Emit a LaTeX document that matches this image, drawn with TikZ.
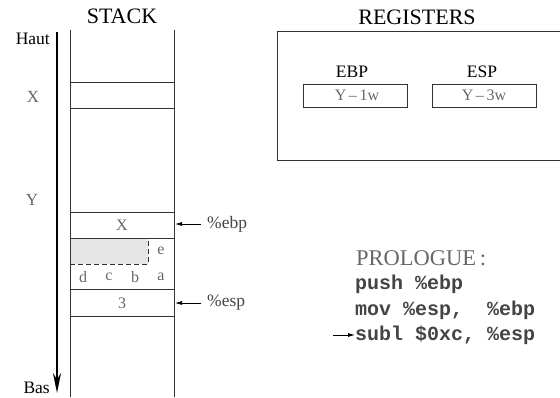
\documentclass[tikz,border=0pt]{standalone}
\usepackage{fontspec}
\setmainfont{Liberation Serif}
\setmonofont{Liberation Mono}
\usetikzlibrary{arrows.meta}
\definecolor{txtgray}{HTML}{666666}
\definecolor{codegray}{HTML}{444444}
\definecolor{linegray}{HTML}{333333}
\definecolor{fillgray}{HTML}{E6E6E6}
\tikzset{
  title/.style={font=\fontsize{22}{22}\selectfont, inner sep=0pt},
  lbl/.style={font=\fontsize{17}{17}\selectfont, inner sep=0pt, text=txtgray},
  blk/.style={font=\fontsize{17.5}{17.5}\selectfont, inner sep=0pt},
  cell/.style={font=\fontsize{16}{16}\selectfont, inner sep=0pt, text=txtgray},
  code/.style={font=\fontsize{20}{20}\selectfont\ttfamily\bfseries, inner sep=0pt, text=codegray, anchor=west},
  sline/.style={draw=linegray, line width=1pt},
  ptr/.style={draw=black, line width=0.8pt, -{Latex[length=7pt,width=4pt]}},
  regbox/.style={draw=linegray, line width=1pt, minimum width=104pt, minimum height=23pt, inner sep=0pt, font=\fontsize{16}{16}\selectfont, text=txtgray}
}
\begin{document}
\begin{tikzpicture}[x=1pt,y=-1pt]
\useasboundingbox (0,0) rectangle (560,397);
% titles
\node[title] (stack) at (122,16) {STACK};
\node[title] (regs) at (417,17) {REGISTERS};
% axis
\coordinate (atop) at (57,32);
\coordinate (abot) at (57,393);
\draw[line width=2pt, -{Stealth[length=20pt,width=8pt]}] (atop) -- (abot);
\node[blk, anchor=east] (haut) at (50,39) {Haut};
\node[blk, anchor=east] (bas) at (50,388) {Bas};
\node[lbl] (xl) at (33,97) {X};
\node[lbl] (yl) at (32,200) {Y};
% stack frame
\fill[fillgray] (70,238) rectangle (148,264);
\draw[sline] (70,30) -- (70,397);
\draw[sline] (174,30) -- (174,397);
\foreach \yy in {82,108,212,238,289,316}
  \draw[sline] (70,\yy) -- (174,\yy);
\draw[sline, dashed, dash pattern=on 5pt off 3pt] (70,264) -- (148,264) -- (148,238);
% cell contents
\node[cell] (cx) at (122,225) {X};
\node[cell] (ce) at (161,251) {e};
\node[cell] (cd) at (83,277) {d};
\node[cell] (cc) at (109,277) {c};
\node[cell] (cb) at (135,277) {b};
\node[cell] (ca) at (161,277) {a};
\node[cell] (c3) at (122,303) {3};
% pointers
\node[blk, anchor=west, text=codegray] (ebp) at (207,224) {\%ebp};
\node[blk, anchor=west, text=codegray] (esp) at (207,303) {\%esp};
\coordinate (ebpt) at (175,224);
\coordinate (espt) at (175,303);
\draw[ptr] (ebp.west) ++(-6,0) -- (ebpt);
\draw[ptr] (esp.west) ++(-6,0) -- (espt);
% registers
\draw[sline] (561,31) -- (277,31) -- (277,160) -- (561,160);
\node[blk] (ebpl) at (352,72) {EBP};
\node[regbox] (ebpb) at (355,95.5) {\hspace{4pt}Y\,--\,1w};
\node[blk] (espl) at (482,72) {ESP};
\node[regbox] (espb) at (484,95.5) {Y\,--\,3w};
% prologue
\node[font=\fontsize{22.5}{22.5}\selectfont, inner sep=0pt, text=txtgray, anchor=west] (pro) at (356,258) {PROLOGUE\,:};
\node[code] (l1) at (355,284) {push \%ebp};
\node[code] (l2) at (355,310) {mov \%esp,\ \ \%ebp};
\node[code] (l3) at (355,335) {subl \$0xc, \%esp};
\coordinate (l3s) at (333,335);
\draw[ptr] (l3s) -- (l3.west);
\end{tikzpicture}
\end{document}
